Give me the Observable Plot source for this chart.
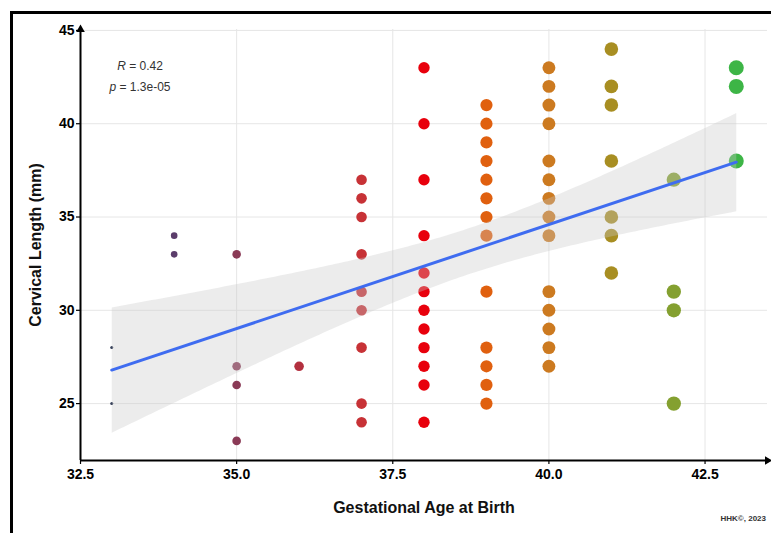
<!DOCTYPE html>
<html><head><meta charset="utf-8">
<script src="https://cdn.jsdelivr.net/npm/d3@7"></script>
<script src="https://cdn.jsdelivr.net/npm/@observablehq/plot@0.6"></script>
<style>
body{margin:0;background:#fff;}
#wrap{position:relative;width:771px;height:533px;overflow:hidden;font-family:"Liberation Sans",Arial,sans-serif;}
#frame{position:absolute;left:10px;top:11px;width:800px;height:600px;border-left:3px solid #000;border-top:3px solid #000;}
#chart{position:absolute;left:0;top:0;}
.ann{position:absolute;font-size:12px;line-height:14px;color:#333;transform:translateX(-50%);white-space:nowrap;}
#cap{position:absolute;right:5px;top:514px;font-size:8px;font-weight:bold;color:#333;}
</style></head>
<body>
<div id="wrap">
  <div id="frame"></div>
  <div id="chart"></div>
  <div class="ann" style="left:140px;top:59px;"><i>R</i> = 0.42</div>
  <div class="ann" style="left:140px;top:80px;"><i>p</i> = 1.3e-05</div>
  <div id="cap">HHK©, 2023</div>
</div>
<script>
// Gestational age categories (weeks)
const ages = [33, 34, 35, 36, 37, 38, 39, 40, 41, 42, 43];
// Cervical length values (mm) for each gestational age
const lengths = [
  [28, 25],
  [34, 33],
  [33, 27, 26, 23],
  [27],
  [37, 36, 35, 33, 31, 30, 28, 25, 24],
  [43, 40, 37, 34, 32, 31, 30, 29, 28, 27, 26, 24],
  [41, 40, 39, 38, 37, 36, 35, 34, 31, 28, 27, 26, 25],
  [43, 42, 41, 40, 38, 37, 36, 35, 34, 31, 30, 29, 28, 27],
  [44, 42, 41, 38, 35, 34, 32],
  [37, 31, 30, 25],
  [43, 42, 38]
];
const xTicks = [32.5, 35.0, 37.5, 40.0, 42.5];
const yTicks = [25, 30, 35, 40, 45];
const xDomain = [32.5, 43.5];
const yDomain = [21.95, 45.05];

const palette = ["#2a3550", "#5b3d6b", "#8a3a56", "#b3303f", "#c73236", "#e8000c",
                 "#e0600f", "#cc7a20", "#a88e22", "#84a030", "#3db546"];

const data = ages.flatMap((a, i) => lengths[i].map(v => ({age: a, len: v})));
const axisEnds = [
  {x: xDomain[1], y: yDomain[0], rot: 90},
  {x: xDomain[0], y: yDomain[1], rot: 0}
];

const chart = Plot.plot({
  width: 771,
  height: 533,
  marginLeft: 80,
  marginTop: 29,
  marginBottom: 73,
  marginRight: 4,
  style: {background: "transparent", fontFamily: "'Liberation Sans', Arial, sans-serif", color: "#000"},
  x: {domain: xDomain},
  y: {domain: yDomain},
  r: {type: "linear", domain: [33, 34, 35, 37, 39, 43], range: [1.5, 3.3, 4.3, 5.3, 6.1, 7.5], clamp: true},
  color: {type: "ordinal", domain: ages, range: palette},
  marks: [
    Plot.gridX(xTicks, {stroke: "#e6e6e6", strokeOpacity: 1, strokeWidth: 1}),
    Plot.gridY(yTicks, {stroke: "#e6e6e6", strokeOpacity: 1, strokeWidth: 1}),
    Plot.dot(data, {x: "age", y: "len", r: "age", fill: "age", stroke: "none"}),
    Plot.linearRegressionY(data, {x: "age", y: "len", stroke: "#3f6cf0", strokeWidth: 3,
                                  fill: "#c8c8c8", fillOpacity: 0.35, ci: 0.95}),
    Plot.ruleY([yDomain[0]], {stroke: "#000", strokeWidth: 2}),
    Plot.ruleX([xDomain[0]], {stroke: "#000", strokeWidth: 2}),
    Plot.dot(axisEnds, {x: "x", y: "y", rotate: "rot", symbol: "triangle", r: 3.2, fill: "#000", stroke: "none"}),
    Plot.axisX(xTicks, {tickFormat: d3.format(".1f"), tickSize: 4, tickPadding: 5, fontSize: 14, fontWeight: "bold", label: null, stroke: "#000", strokeWidth: 1.2}),
    Plot.axisY(yTicks, {tickSize: 4, tickPadding: 2, fontSize: 14, fontWeight: "bold", label: null, stroke: "#000", strokeWidth: 1.2}),
    Plot.text(["Gestational Age at Birth"], {frameAnchor: "bottom", lineAnchor: "middle", dy: 47, fontSize: 16, fontWeight: "bold", fill: "#111"}),
    Plot.text(["Cervical Length (mm)"], {frameAnchor: "left", lineAnchor: "middle", textAnchor: "middle", dx: -45, rotate: -90, fontSize: 16, fontWeight: "bold", fill: "#111"})
  ]
});
document.getElementById("chart").appendChild(chart);
</script>
</body></html>
